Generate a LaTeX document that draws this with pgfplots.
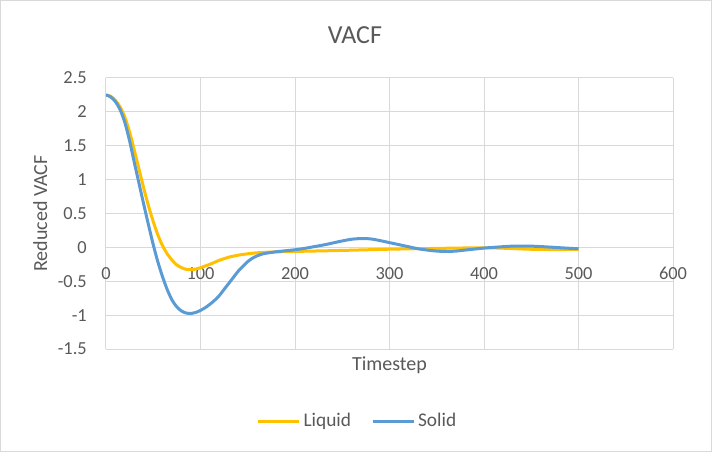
\documentclass[border=0pt]{standalone}
\usepackage{pgfplots}
\pgfplotsset{compat=1.18}
\usepackage{fontspec}
\setmainfont{Carlito}
\definecolor{txt}{HTML}{595959}
\definecolor{gridc}{HTML}{D9D9D9}
\definecolor{liq}{HTML}{FFC000}
\definecolor{sol}{HTML}{5B9BD5}
\begin{document}
\begin{tikzpicture}
\path[use as bounding box] (-79.5pt,-77.25pt) rectangle (454.5pt,261.75pt);
\draw[gridc, line width=0.75pt] (-79.125pt,-76.875pt) rectangle (454.125pt,261.375pt);
\begin{axis}[
  at={(0,0)}, anchor=south west,
  scale only axis, width=425.25pt, height=203.25pt,
  xmin=0, xmax=600, ymin=-1.5, ymax=2.5,
  xtick={0,100,...,600}, ytick={-1.5,-1,...,2.5},
  grid=major, major grid style={gridc, line width=0.75pt},
  axis line style={draw=none}, major tick length=0,
  /pgf/number format/assume math mode=true,
  ticklabel style={font=\fontsize{13.8}{16}\selectfont, text=txt, inner sep=0pt},
  yticklabel style={anchor=east, xshift=-14.25pt},
  xticklabel style={anchor=north, yshift=61.5pt},
  title={VACF},
  every axis title/.style={at={(axis description cs:0.439,1.128)}, anchor=base, inner sep=0pt, font=\fontsize{19.5}{22}\selectfont, text=txt},
  xlabel={Timestep},
  every axis x label/.style={at={(axis description cs:0.5,-0.0775)}, anchor=base, inner sep=0pt, font=\fontsize{15}{18}\selectfont, text=txt},
  ylabel={Reduced VACF},
  every axis y label/.style={at={(axis description cs:-0.104,0.5)}, rotate=90, anchor=base, inner sep=0pt, font=\fontsize{15}{18}\selectfont, text=txt},
  legend columns=2,
  legend style={at={(axis description cs:0.444,-0.266)}, anchor=center, draw=none, fill=none, font=\fontsize{14.5}{17}\selectfont, text=txt, /tikz/every even column/.append style={column sep=13pt}},
  legend image code/.code={\draw[#1] (0pt,0pt) -- (31pt,0pt);},
]
\addplot[liq, line width=2.25pt, smooth, no markers] coordinates {
(0,2.25) (5,2.23) (10,2.17) (15,2.07) (20,1.92) (25,1.70) (30,1.43) (35,1.15) (40,0.87) (45,0.61) (50,0.38) (55,0.18) (60,0.02) (65,-0.10) (70,-0.19) (75,-0.26) (80,-0.30) (85,-0.325) (90,-0.33) (95,-0.32) (100,-0.30) (105,-0.275) (110,-0.25) (115,-0.22) (120,-0.19) (130,-0.145) (140,-0.115) (150,-0.095) (160,-0.08) (170,-0.072) (180,-0.067) (200,-0.06) (250,-0.045) (300,-0.027) (350,-0.015) (400,-0.006) (425,-0.015) (450,-0.028) (475,-0.032) (500,-0.03)
};
\addlegendentry{Liquid}
\addplot[sol, line width=2.25pt, smooth, no markers] coordinates {
(0,2.25) (5,2.22) (10,2.15) (15,2.03) (20,1.84) (25,1.57) (30,1.25) (35,0.94) (40,0.63) (45,0.33) (50,0.04) (55,-0.22) (60,-0.44) (65,-0.63) (70,-0.78) (75,-0.88) (80,-0.94) (85,-0.97) (90,-0.975) (95,-0.96) (100,-0.93) (105,-0.89) (110,-0.84) (115,-0.78) (120,-0.71) (125,-0.62) (130,-0.53) (135,-0.44) (140,-0.35) (145,-0.28) (150,-0.21) (155,-0.16) (160,-0.125) (165,-0.10) (170,-0.085) (180,-0.065) (190,-0.05) (200,-0.035) (210,-0.015) (220,0.01) (230,0.035) (240,0.065) (250,0.095) (260,0.12) (270,0.13) (280,0.125) (290,0.10) (300,0.07) (310,0.04) (320,0.01) (330,-0.02) (340,-0.04) (350,-0.055) (360,-0.06) (370,-0.055) (380,-0.04) (390,-0.025) (400,-0.01) (410,0.0) (420,0.01) (430,0.018) (440,0.02) (450,0.018) (460,0.012) (470,0.004) (480,-0.005) (490,-0.013) (500,-0.02)
};
\addlegendentry{Solid}
\end{axis}
\end{tikzpicture}
\end{document}
